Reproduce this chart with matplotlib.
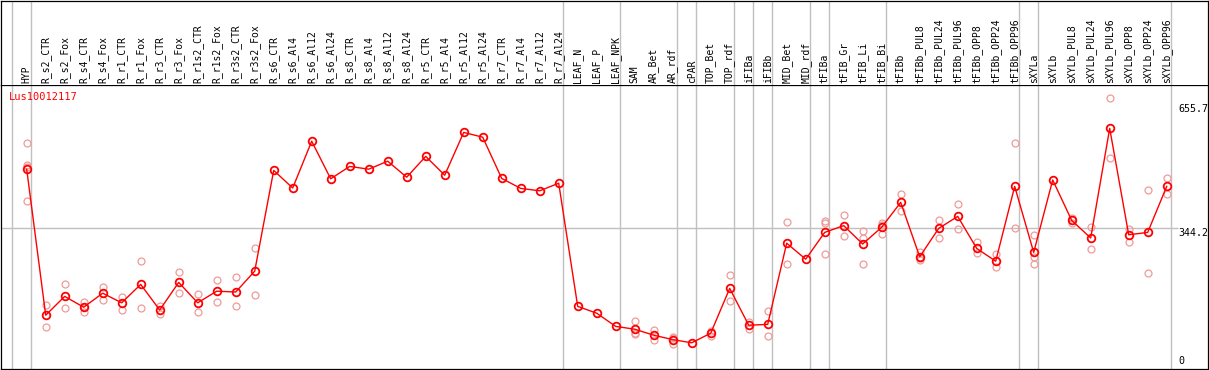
import numpy as np
import matplotlib
matplotlib.use("Agg")
import matplotlib.pyplot as plt

gene = "Lus10012117"

categories = [
    "HYP",
    "R_s2_CTR", "R_s2_Fox", "R_s4_CTR", "R_s4_Fox", "R_r1_CTR", "R_r1_Fox",
    "R_r3_CTR", "R_r3_Fox", "R_r1s2_CTR", "R_r1s2_Fox", "R_r3s2_CTR", "R_r3s2_Fox",
    "R_s6_CTR", "R_s6_Al4", "R_s6_Al12", "R_s6_Al24",
    "R_s8_CTR", "R_s8_Al4", "R_s8_Al12", "R_s8_Al24",
    "R_r5_CTR", "R_r5_Al4", "R_r5_Al12", "R_r5_Al24",
    "R_r7_CTR", "R_r7_Al4", "R_r7_Al12", "R_r7_Al24",
    "LEAF_N", "LEAF_P", "LEAF_NPK",
    "SAM", "AR_Bet", "AR_rdf", "cPAR", "TOP_Bet", "TOP_rdf",
    "iFIBa", "iFIBb", "MID_Bet", "MID_rdf",
    "tFIBa", "tFIB_Gr", "tFIB_Li", "tFIB_Bi", "tFIBb",
    "tFIBb_PUL8", "tFIBb_PUL24", "tFIBb_PUL96",
    "tFIBb_OPP8", "tFIBb_OPP24", "tFIBb_OPP96",
    "sXYLa", "sXYLb",
    "sXYLb_PUL8", "sXYLb_PUL24", "sXYLb_PUL96",
    "sXYLb_OPP8", "sXYLb_OPP24", "sXYLb_OPP96",
]

means = [
    492,
    127, 174, 147, 182, 158, 204, 140, 209, 158, 187, 185, 237,
    489, 445, 562, 468,
    499, 492, 512, 472,
    524, 477, 584, 572,
    469, 444, 438, 457,
    149, 132, 99,
    92, 77, 66, 58, 82, 194,
    102, 104, 307, 267,
    334, 351, 305, 347, 409,
    273, 344, 374,
    294, 262, 449,
    284, 465,
    364, 320, 594,
    328, 334, 449,
]

replicates = [
    [557, 502, 498, 413],
    [152, 98], [205, 146], [161, 134, 147], [198, 164], [173, 141], [262, 144],
    [150, 131], [234, 182], [179, 134], [214, 159], [222, 149], [294, 177],
    [], [], [], [],
    [], [], [], [],
    [], [], [], [],
    [], [], [], [],
    [], [], [],
    [112, 83, 80], [90, 64], [72, 56, 70], [], [88, 75], [228, 162],
    [111, 92], [138, 74], [359, 254], [],
    [362, 358, 280], [377, 324], [338, 319, 254], [358, 329, 353], [430, 387],
    [286, 265, 269], [365, 321], [404, 343],
    [310, 282], [279, 247], [557, 344],
    [327, 272, 254], [],
    [371, 358], [348, 292], [669, 519],
    [342, 311], [439, 232], [469, 429],
]

group_ends = [-1, 0, 28, 31, 34, 35, 37, 38, 39, 41, 42, 45, 52, 53, 60]
tick_values = [0, 344.2, 655.7]
mid_line = 344.2

W, H = 1209, 370
mono = "DejaVu Sans Mono"
grey = "#c0c0c0"

fig = plt.figure(figsize=(W / 100, H / 100), dpi=100)
ax = fig.add_axes([1 / W, 1 / H, 1207 / W, 284 / H])
lab = fig.add_axes([1 / W, 285 / H, 1207 / W, 84.5 / H], sharex=ax)

x = np.arange(len(categories))
ax.set_xlim((1 - 26.7) / 19, (1208 - 26.7) / 19)
ax.set_ylim(-7.5, 702.5)
lab.set_ylim(0, 1)

for a in (ax, lab):
    a.set_xticks([])
    a.set_yticks([])
    for s in a.spines.values():
        s.set_linewidth(0.9)
        s.set_color("black")
    for g in group_ends:
        a.axvline(g + 0.22, color=grey, lw=1.0, zorder=0)
lab.spines["bottom"].set_visible(False)

ax.hlines(mid_line, ax.get_xlim()[0], 60.6, color=grey, lw=1.0, zorder=0)

for i, reps in enumerate(replicates):
    if reps:
        ax.plot([i] * len(reps), reps, ls="none", marker="o", mfc="none",
                mec="#f09a9a", ms=5, mew=0.9, zorder=2)

ax.plot(x, means, color="red", lw=1.0, marker="o", mfc="none",
        mec="red", ms=5.5, mew=1.3, zorder=3)

for i, c in enumerate(categories):
    lab.text(i, 0.025, c, rotation=90, ha="center", va="bottom",
             transform=lab.get_xaxis_transform(), fontsize=7, family=mono)

for v in tick_values:
    ax.text(60.63, v, f"{v:g}", ha="left", va="top" if v > 0 else "bottom",
            fontsize=7.2, family=mono)

ax.text(0.0069, 0.959, gene, transform=ax.transAxes, color="red",
        ha="left", va="center", fontsize=7.5, family=mono)

fig.savefig("out.png", dpi=100)
plt.close(fig)
